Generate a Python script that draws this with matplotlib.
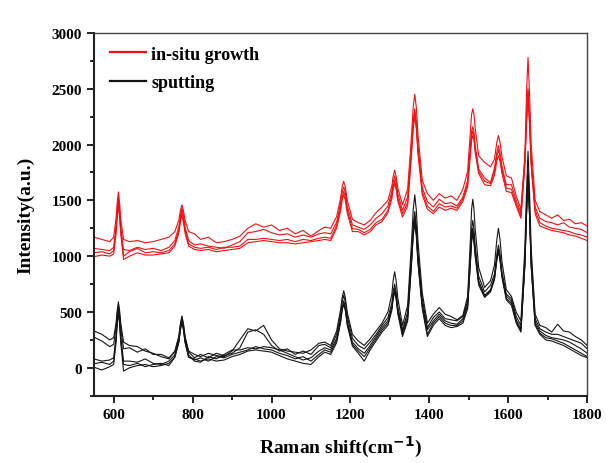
import numpy as np
import matplotlib.pyplot as plt

plt.rcParams["font.family"] = ["Liberation Serif", "DejaVu Serif"]
plt.rcParams["font.weight"] = "bold"

# ------------------------------------------------------------------ #
# data (Raman shift, cm^-1)           #
# ------------------------------------------------------------------ #
shift = [550, 570, 590, 600, 606, 609, 612, 615, 618, 625,
         640, 660, 680, 700, 720, 740, 755, 765, 769, 773,
         777, 781, 790, 805, 820, 840, 860, 880, 900, 920,
         940, 960, 980, 1000, 1020, 1040, 1060, 1080, 1100, 1120,
         1135, 1150, 1165, 1175, 1179, 1183, 1187, 1192, 1205, 1220,
         1235, 1250, 1265, 1280, 1295, 1305, 1308, 1312, 1316, 1320,
         1332, 1345, 1355, 1359, 1363, 1367, 1371, 1382, 1395, 1410,
         1425, 1440, 1455, 1470, 1485, 1497, 1504, 1507, 1510, 1513,
         1516, 1525, 1540, 1555, 1565, 1571, 1575, 1579, 1584, 1595,
         1608, 1620, 1632, 1642, 1646, 1650, 1654, 1658, 1668, 1680,
         1695, 1710, 1725, 1740, 1755, 1770, 1785, 1800]

# in-situ growth spectra
insitu_1 = [1170, 1150, 1130, 1170, 1335, 1480, 1575, 1480, 1330, 1150,
            1130, 1140, 1120, 1130, 1150, 1170, 1220, 1320, 1405, 1460,
            1405, 1320, 1220, 1200, 1150, 1170, 1120, 1130, 1150, 1180,
            1250, 1290, 1260, 1280, 1230, 1250, 1200, 1230, 1180, 1230,
            1260, 1250, 1355, 1520, 1620, 1670, 1620, 1500, 1330, 1300,
            1280, 1320, 1390, 1440, 1500, 1630, 1710, 1770, 1710, 1610,
            1460, 1600, 2090, 2330, 2450, 2330, 2090, 1680, 1560, 1500,
            1560, 1520, 1540, 1500, 1600, 1760, 2120, 2270, 2320, 2270,
            2150, 1900, 1840, 1800, 1870, 2020, 2080, 2020, 1890, 1720,
            1700, 1540, 1420, 1900, 2440, 2780, 2440, 2000, 1500, 1400,
            1370, 1340, 1370, 1320, 1330, 1290, 1300, 1270]
insitu_2 = [1070, 1060, 1050, 1080, 1265, 1420, 1520, 1420, 1260, 1060,
            1050, 1080, 1060, 1070, 1050, 1080, 1140, 1260, 1360, 1430,
            1360, 1260, 1140, 1100, 1110, 1090, 1080, 1070, 1100, 1130,
            1210, 1220, 1240, 1210, 1190, 1200, 1170, 1190, 1170, 1200,
            1210, 1200, 1305, 1470, 1570, 1620, 1570, 1450, 1280, 1260,
            1240, 1280, 1340, 1380, 1450, 1580, 1660, 1720, 1660, 1560,
            1410, 1530, 1990, 2210, 2320, 2210, 1990, 1615, 1490, 1440,
            1510, 1470, 1480, 1450, 1530, 1680, 1990, 2115, 2160, 2115,
            2000, 1780, 1700, 1660, 1790, 1930, 1990, 1930, 1805, 1640,
            1640, 1500, 1390, 1860, 2220, 2500, 2220, 1860, 1440, 1340,
            1310, 1300, 1280, 1300, 1260, 1250, 1240, 1210]
insitu_3 = [1030, 1040, 1020, 1050, 1230, 1380, 1480, 1380, 1230, 1000,
            1040, 1070, 1030, 1040, 1030, 1050, 1110, 1230, 1330, 1400,
            1330, 1230, 1110, 1080, 1070, 1080, 1060, 1080, 1080, 1090,
            1150, 1150, 1160, 1150, 1140, 1150, 1130, 1150, 1140, 1160,
            1170, 1160, 1275, 1435, 1530, 1580, 1530, 1410, 1245, 1240,
            1210, 1240, 1300, 1330, 1410, 1545, 1620, 1680, 1620, 1520,
            1380, 1480, 1955, 2170, 2280, 2170, 1955, 1580, 1450, 1400,
            1470, 1440, 1450, 1430, 1510, 1650, 1950, 2075, 2120, 2075,
            1965, 1760, 1670, 1650, 1760, 1895, 1950, 1895, 1775, 1610,
            1600, 1470, 1360, 1835, 2200, 2480, 2200, 1835, 1410, 1300,
            1270, 1250, 1240, 1230, 1220, 1200, 1190, 1170]
insitu_4 = [995, 1010, 1000, 1020, 1200, 1350, 1450, 1350, 1200, 970,
            1000, 1030, 1010, 1010, 1020, 1030, 1090, 1205, 1300, 1370,
            1300, 1205, 1090, 1060, 1050, 1060, 1040, 1050, 1060, 1070,
            1120, 1130, 1140, 1130, 1120, 1120, 1110, 1120, 1130, 1140,
            1150, 1140, 1250, 1405, 1500, 1550, 1500, 1385, 1220, 1220,
            1190, 1220, 1280, 1310, 1390, 1515, 1595, 1650, 1595, 1495,
            1350, 1450, 1925, 2140, 2250, 2140, 1925, 1550, 1420, 1380,
            1440, 1410, 1430, 1410, 1490, 1620, 1910, 2040, 2080, 2040,
            1930, 1740, 1640, 1630, 1725, 1850, 1900, 1850, 1740, 1580,
            1570, 1450, 1340, 1810, 2170, 2450, 2170, 1810, 1380, 1270,
            1250, 1230, 1220, 1210, 1190, 1180, 1160, 1140]

# sputtering spectra
sputter_1 = [330, 300, 250, 270, 400, 515, 590, 515, 400, 230,
             200, 190, 150, 130, 100, 80, 150, 280, 390, 465,
             390, 280, 150, 120, 100, 130, 110, 100, 150, 250,
             350, 330, 380, 250, 170, 150, 140, 130, 160, 220,
             230, 200, 330, 520, 630, 690, 630, 495, 300, 240,
             200, 260, 330, 400, 500, 660, 775, 860, 775, 625,
             380, 560, 1140, 1410, 1550, 1410, 1140, 670, 400, 480,
             540, 480, 460, 430, 470, 640, 1150, 1420, 1510, 1420,
             1250, 900, 720, 780, 920, 1150, 1250, 1150, 950, 700,
             640, 500, 420, 1070, 1560, 1940, 1560, 1070, 480, 380,
             360, 320, 390, 330, 320, 280, 250, 200]
sputter_2 = [275, 240, 190, 210, 360, 480, 560, 480, 350, 170,
             180, 140, 170, 120, 120, 90, 140, 270, 380, 450,
             380, 270, 140, 90, 120, 90, 130, 110, 130, 180,
             320, 340, 300, 200, 150, 170, 120, 150, 120, 200,
             210, 180, 300, 480, 590, 650, 590, 460, 265, 200,
             170, 230, 300, 380, 450, 580, 680, 750, 680, 550,
             340, 500, 1030, 1270, 1400, 1270, 1030, 620, 360, 450,
             500, 440, 430, 420, 460, 600, 1030, 1240, 1320, 1240,
             1100, 820, 680, 740, 840, 1020, 1100, 1020, 860, 660,
             620, 460, 380, 980, 1430, 1780, 1430, 980, 440, 350,
             320, 300, 300, 280, 260, 240, 220, 170]
sputter_3 = [80, 60, 70, 90, 280, 435, 540, 435, 280, 60,
             60, 50, 80, 40, 30, 60, 115, 245, 355, 430,
             355, 245, 115, 60, 50, 100, 80, 120, 160, 160,
             180, 170, 190, 180, 160, 130, 100, 70, 90, 150,
             180, 160, 265, 440, 545, 600, 545, 415, 230, 170,
             130, 200, 280, 360, 420, 545, 640, 710, 640, 520,
             320, 460, 990, 1225, 1350, 1225, 990, 570, 340, 420,
             480, 420, 400, 390, 440, 570, 980, 1175, 1250, 1175,
             1045, 780, 650, 700, 810, 985, 1060, 985, 830, 640,
             600, 430, 350, 940, 1380, 1720, 1380, 940, 410, 330,
             290, 270, 260, 250, 230, 200, 170, 130]
sputter_4 = [36, 50, 30, 60, 250, 410, 520, 410, 250, 30,
             20, 40, 10, 30, 40, 20, 95, 230, 345, 420,
             345, 230, 95, 70, 90, 60, 100, 90, 120, 140,
             160, 190, 170, 160, 130, 110, 80, 100, 60, 120,
             160, 140, 245, 420, 525, 580, 525, 395, 210, 150,
             100, 180, 260, 340, 400, 535, 630, 700, 630, 505,
             300, 440, 960, 1195, 1320, 1195, 960, 550, 300, 400,
             460, 400, 380, 380, 420, 550, 960, 1145, 1220, 1145,
             1020, 760, 640, 690, 800, 975, 1050, 975, 820, 620,
             580, 420, 330, 920, 1360, 1700, 1360, 920, 390, 310,
             270, 260, 240, 220, 190, 160, 130, 100]
sputter_5 = [6, -20, 10, 30, 225, 390, 500, 390, 225, -30,
             0, 20, 30, 10, 20, 40, 95, 225, 335, 410,
             335, 225, 95, 80, 60, 80, 60, 70, 100, 120,
             150, 160, 150, 140, 110, 80, 60, 40, 30, 100,
             140, 120, 225, 405, 515, 570, 515, 380, 195, 130,
             60, 160, 240, 320, 380, 515, 610, 680, 610, 485,
             280, 420, 940, 1175, 1300, 1175, 940, 530, 280, 380,
             440, 380, 360, 370, 400, 530, 940, 1125, 1200, 1125,
             1000, 740, 630, 680, 790, 965, 1040, 965, 810, 610,
             560, 400, 320, 910, 1350, 1690, 1350, 910, 380, 300,
             250, 240, 220, 200, 170, 140, 110, 90]

insitu = [insitu_1, insitu_2, insitu_3, insitu_4]
sputter = [sputter_1, sputter_2, sputter_3, sputter_4, sputter_5]

# ------------------------------------------------------------------ #
fig = plt.figure(figsize=(6.06, 4.64), dpi=100)
ax = fig.add_axes([0.155, 0.145, 0.814, 0.782])

for s in sputter:
    ax.plot(shift, s, color="#151515", lw=0.8)
for s in insitu:
    ax.plot(shift, s, color="#f01010", lw=0.8)

# legend handles (thicker lines, as in the original)
ax.plot([], [], color="#f01010", lw=1.6, label="in-situ growth")
ax.plot([], [], color="#151515", lw=1.6, label="sputting")
handles, labels = ax.get_legend_handles_labels()
ax.legend(handles, labels, loc="upper left", bbox_to_anchor=(0.032, 0.965),
          frameon=False, handlelength=2.0, handletextpad=0.3,
          borderpad=0, borderaxespad=0,
          labelspacing=0.65, prop={"size": 13, "weight": "bold"})

ax.set_xlim(550, 1800)
ax.set_ylim(-250, 3000)
ax.set_xticks(np.arange(600, 1801, 200))
ax.set_xticks(np.arange(600, 1801, 100), minor=True)
ax.set_yticks(np.arange(0, 3001, 500))
ax.set_yticks(np.arange(-250, 3001, 250), minor=True)
ax.tick_params(which="both", direction="out", top=False, right=False,
               labelsize=11, width=1.2)
ax.tick_params(which="major", length=5)
ax.tick_params(which="minor", length=3)

for side in ("left", "bottom"):
    ax.spines[side].set_linewidth(1.5)
    ax.spines[side].set_color("#222222")
for side in ("top", "right"):
    ax.spines[side].set_linewidth(1.0)
    ax.spines[side].set_color("#444444")

ax.set_xlabel("Raman shift(cm$^{\\mathbf{-1}}$)", fontsize=14, fontweight="bold", labelpad=10)
ax.set_ylabel("Intensity(a.u.)", fontsize=14, fontweight="bold", labelpad=12)

fig.savefig("out.png", dpi=100)
